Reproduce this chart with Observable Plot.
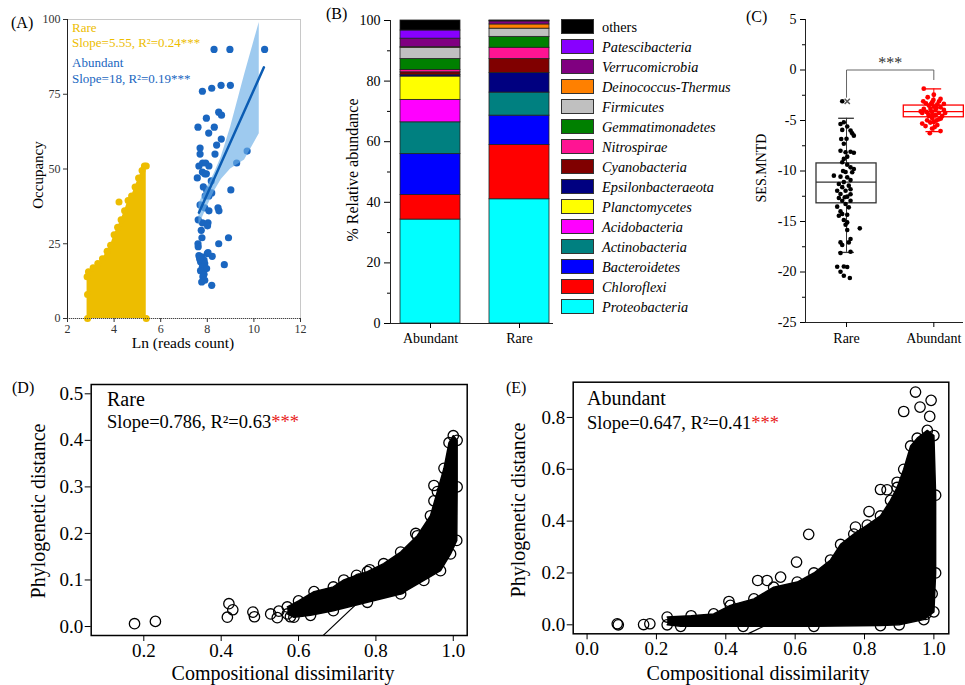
<!DOCTYPE html>
<html><head><meta charset="utf-8">
<script src="https://cdn.jsdelivr.net/npm/d3@7"></script>
<script src="https://cdn.jsdelivr.net/npm/@observablehq/plot@0.6"></script>
<style>
body{margin:0;background:#fff;}
#wrap{position:relative;width:965px;height:685px;overflow:hidden;font-family:"Liberation Serif","Times New Roman",serif;}
.t{position:absolute;white-space:nowrap;line-height:1;}
</style></head><body><div id="wrap"></div>
<script>
// ---------------- DATA ----------------
// Panel A
const rareEdgeA = [[2.84,14],[2.9,15.6],[3.1,17],[3.3,18.4],[3.5,20],[3.7,22.5],[3.85,24.5],[4.0,28],[4.15,30.5],[4.3,33],[4.45,36],[4.6,39.5],[4.75,41],[4.9,44],[5.05,47],[5.2,49.5],[5.3,51],[5.38,51]];
const rareExtraA = [[4.21,39],[2.86,0],[5.38,0],[2.86,8]];
const abundantA = [[8.29,90],[8.97,90],[10.46,90],[7.79,76],[8.19,77],[8.59,78],[8.99,78],[7.6,64],[7.96,67],[8.06,62],[8.3,64],[8.49,69],[8.61,68],[8.6,60],[8.4,58],[8.33,55],[7.69,57],[7.69,55],[9.71,56],[9.26,52],[7.64,51],[7.8,52],[7.93,52],[8.07,51],[7.79,49],[7.89,48.4],[7.57,47],[7.96,48.4],[8.17,46],[9.01,43],[7.83,44],[7.97,43],[7.91,41],[8.07,41],[8.19,42],[7.69,38],[7.89,37],[8.07,36],[8.46,37],[8.5,36],[7.61,33],[7.79,32],[8.03,32],[8.01,31],[7.74,29.5],[7.77,27],[8.91,27],[7.6,25],[7.61,24],[8.49,25],[7.64,21],[7.76,20.6],[8.0,21.7],[8.21,20.8],[7.86,19.5],[7.71,19],[7.89,18.4],[7.79,17.3],[7.97,16.7],[8.73,18],[7.71,16],[7.86,14.8],[7.81,14],[7.89,12.8],[7.76,12.2],[8.19,11.1],[8.03,22],[7.67,20]];
const ribbonX  = [7.64, 8.0, 8.3, 8.6, 9.0, 9.6, 10.23];
const ribbonLo = [31, 37.5, 42.5, 46.5, 50, 53, 61.8];
const ribbonHi = [38.5, 44, 48.5, 54, 64, 81.5, 99];
const fitAX = [7.64, 10.43], fitAY = [35.4, 84];
const xTicksA = [2,4,6,8,10,12], yTicksA = [0,25,50,75,100];

// Panel B
const groupsB = ["Abundant","Rare"];
const phyla = ["Proteobacteria","Chloroflexi","Bacteroidetes","Actinobacteria","Acidobacteria","Planctomycetes","Epsilonbacteraeota","Cyanobacteria","Nitrospirae","Gemmatimonadetes","Firmicutes","Deinococcus-Thermus","Verrucomicrobia","Patescibacteria","others"];
const phylaColors = ["#00FFFF","#FF0000","#0000FF","#008080","#FF00FF","#FFFF00","#000080","#800000","#FF1493","#008000","#C0C0C0","#FF8000","#800080","#8800FF","#000000"];
const abundantB = [34.3, 8.1, 13.5, 10.5, 7.4, 7.7, 0.5, 0.9, 0.8, 3.6, 3.7, 0.2, 2.8, 2.7, 3.3];
const rareB     = [41.0, 17.9, 9.7, 7.6, 0.0, 0.0, 6.5, 4.6, 3.7, 3.6, 2.7, 1.4, 1.0, 0.2, 0.1];
const yTicksB = [0,20,40,60,80,100], yMinorB = [10,30,50,70,90];

// Panel C
const catsC = ["Rare","Abundant"];
const boxC = [
  {pos:1, q1:-13.2, q3:-9.25, median:-11.1, lo:-18.06, hi:-4.78},
  {pos:2, q1:-4.68, q3:-3.52, median:-4.12, lo:-6.1, hi:-1.87}
];
const rarePtsC = [[0.951,-3.1],[0.931,-5.34],[0.969,-5.18],[1.008,-5.6],[0.951,-5.93],[1.046,-6.0],[1.084,-6.5],[1.065,-6.27],[0.939,-6.83],[0.969,-7.3],[0.931,-8.0],[0.989,-8.15],[1.046,-8.1],[1.084,-8.2],[1.008,-8.58],[0.969,-8.8],[0.951,-9.14],[1.008,-9.37],[1.046,-9.64],[1.084,-9.8],[1.065,-10.13],[0.989,-10.1],[0.855,-10.46],[0.931,-10.56],[1.008,-10.63],[1.046,-10.9],[0.969,-11.1],[0.912,-11.28],[1.026,-11.45],[0.951,-11.6],[1.046,-11.8],[0.893,-11.95],[0.989,-11.95],[0.931,-12.27],[1.046,-12.3],[1.008,-12.54],[0.912,-12.67],[0.951,-12.94],[1.046,-12.94],[0.989,-13.27],[0.893,-13.53],[1.026,-13.6],[0.931,-14.0],[1.008,-14.33],[0.912,-14.43],[0.951,-14.26],[0.969,-14.85],[1.008,-15.09],[0.989,-15.32],[1.152,-15.68],[1.008,-15.84],[1.046,-16.74],[1.026,-17.07],[0.931,-17.07],[0.951,-17.33],[0.931,-18.12],[1.046,-17.99],[0.893,-19.48],[0.969,-19.45],[1.008,-19.5],[0.931,-19.97],[0.969,-20.37],[1.038,-20.6],[0.98,-12.6],[1.0,-6.8],[0.96,-10.0]];
const abPtsC = [[1.885,-1.85],[2.0,-2.45],[1.93,-2.7],[2.077,-2.86],[1.879,-3.1],[1.98,-3.2],[2.115,-3.36],[2.04,-3.4],[1.943,-3.52],[2.0,-3.62],[2.077,-3.69],[1.885,-3.85],[1.962,-3.85],[2.02,-3.95],[2.115,-3.95],[1.916,-4.15],[1.98,-4.15],[2.057,-4.25],[1.867,-4.25],[2.02,-4.48],[1.943,-4.55],[2.096,-4.55],[1.98,-4.75],[2.057,-4.88],[1.924,-4.98],[2.0,-5.15],[1.867,-5.3],[1.905,-5.55],[2.04,-5.45],[1.98,-5.8],[2.077,-6.05],[1.954,-6.25],[1.97,-3.36],[1.91,-3.3],[2.06,-3.1],[1.995,-2.96],[2.03,-3.75],[1.94,-4.4],[1.99,-4.5],[2.08,-4.8],[2.03,-5.0],[1.96,-5.2],[2.01,-5.65],[2.13,-4.25],[1.85,-4.1]];
const outlierC = [[1.008,-3.1]];
const bracketC = [[1,-2.7],[1,0],[2,0],[2,-0.95]];
const sigC = [{x:1.5, y:0.0, label:"***"}];
const yTicksC = [5,0,-5,-10,-15,-20,-25], yMinorC = [2.5,-2.5,-7.5,-12.5,-17.5,-22.5];

// Panel D
const dUpper = [[0.571,0.042],[0.60,0.055],[0.64,0.075],[0.69,0.085],[0.717,0.100],[0.75,0.11],[0.778,0.118],[0.82,0.135],[0.864,0.160],[0.907,0.195],[0.941,0.238],[0.959,0.29],[0.976,0.34],[0.989,0.395],[1.0,0.41],[1.01,0.40]];
const dLower = [[1.01,0.30],[1.009,0.185],[0.993,0.156],[0.967,0.12],[0.924,0.099],[0.864,0.070],[0.778,0.052],[0.69,0.034],[0.631,0.024],[0.588,0.02],[0.571,0.027]];
const dOut = [[0.176,0.006],[0.23,0.011],[0.42,0.049],[0.416,0.02],[0.43,0.036],[0.482,0.031],[0.486,0.021],[0.528,0.027],[0.549,0.033],[0.545,0.019],[0.579,0.021],[0.784,0.122],[0.903,0.20],[0.95,0.303],[0.95,0.27],[0.864,0.081],[0.756,0.102],[0.709,0.083]];
const dFit = [[0.664,-0.019],[1.0,0.245]];
const xTicksD = [0.2,0.4,0.6,0.8,1.0], yTicksD = [0,0.1,0.2,0.3,0.4,0.5];

// Panel E
const eUpper = [[0.231,0.03],[0.30,0.035],[0.365,0.042],[0.413,0.075],[0.481,0.10],[0.538,0.145],[0.606,0.165],[0.654,0.20],[0.702,0.25],[0.731,0.31],[0.769,0.35],[0.808,0.385],[0.846,0.42],[0.875,0.48],[0.894,0.53],[0.913,0.60],[0.933,0.69],[0.952,0.72],[0.981,0.75],[1.0,0.73]];
const eLower = [[1.005,0.5],[1.005,0.2],[1.0,0.05],[0.971,0.02],[0.9,0.0],[0.846,-0.003],[0.654,-0.006],[0.45,-0.006],[0.27,-0.006],[0.231,0.0]];
const eOut = [[0.087,0.004],[0.09,0.0],[0.163,0.001],[0.181,0.004],[0.639,0.349],[0.947,0.898],[0.992,0.866],[0.96,0.84],[0.913,0.823],[0.988,0.804],[0.846,0.522],[0.865,0.521],[0.894,0.55],[0.813,0.437],[0.604,0.242],[0.558,0.184],[0.492,0.171],[0.519,0.171],[0.409,0.09],[0.774,0.377],[0.995,0.12],[0.976,0.04]];
const eFit = [[0.465,-0.034],[1.0,0.31]];
const xTicksE = [0,0.2,0.4,0.6,0.8,1.0], yTicksE = [0,0.2,0.4,0.6,0.8];

// ---------------- HELPERS ----------------
const FF = '"Liberation Serif","Times New Roman",serif';
const wrap = document.getElementById("wrap");
function place(svg, left, top){svg.style.position="absolute";svg.style.left=left+"px";svg.style.top=top+"px";wrap.appendChild(svg);}
function txt(html, x, y, o={}){
  const d=document.createElement("div");d.className="t";d.innerHTML=html;
  d.style.left=x+"px";d.style.top=y+"px";d.style.fontSize=(o.size||14)+"px";
  d.style.color=o.color||"#000";if(o.italic)d.style.fontStyle="italic";
  d.style.transform=o.rot?"translate(-50%,-50%) rotate(-90deg)":(o.center?"translate(-50%,-50%)":"translate(0,-50%)");
  wrap.appendChild(d);return d;}
const st = (fs)=>({fontFamily:FF,fontSize:fs+"px",color:"#000",background:"transparent",overflow:"visible"});
const fmt1 = d3.format(".1f");

// ---------------- PANEL A ----------------
const YEL="#EDBD00", BLUE="#1a66c0";
const ribbon = ribbonX.map((x,i)=>({x, lo:ribbonLo[i], hi:ribbonHi[i]}));
const A = Plot.plot({
  width:320,height:350,marginLeft:67,marginRight:20,marginTop:19,marginBottom:32,
  style:st(12),
  x:{domain:[2,12],label:null}, y:{domain:[0,100],label:null},
  marks:[
    Plot.frame({stroke:"#c8c8c8"}),
    Plot.areaY(rareEdgeA,{x:d=>d[0],y:d=>d[1],fill:YEL}),
    Plot.dot(rareEdgeA.concat(rareExtraA),{x:d=>d[0],y:d=>d[1],r:3.5,fill:YEL}),
    Plot.dot(abundantA,{x:d=>d[0],y:d=>d[1],r:3.6,fill:BLUE}),
    Plot.areaY(ribbon,{x:"x",y1:"lo",y2:"hi",fill:"#6aaee6",fillOpacity:0.65}),
    Plot.line(fitAX.map((x,i)=>[x,fitAY[i]]),{x:d=>d[0],y:d=>d[1],stroke:"#0b5cb3",strokeWidth:2.5}),
    Plot.ruleX([2],{stroke:"#222"}), Plot.ruleY([0],{stroke:"#444",strokeDasharray:"1,1"}),
    Plot.axisX({ticks:xTicksA,tickSize:4,tickPadding:2,label:null,color:"#333"}),
    Plot.axisY({ticks:yTicksA,tickSize:4,tickPadding:3,label:null,color:"#333"})
  ]});
place(A,0,0);
txt("(A)",11,23,{size:16});
txt("Rare",72,27,{size:13,color:YEL});
txt("Slope=5.55, R²=0.24***",72,42,{size:13,color:YEL});
txt("Abundant",72,62,{size:13,color:BLUE});
txt("Slope=18, R²=0.19***",72,78,{size:13,color:BLUE});
txt("Occupancy",38,175,{size:15,rot:true});
txt("Ln (reads count)",183,343,{size:15.5,center:true});

// ---------------- PANEL B ----------------
const stackB = [];
groupsB.forEach(g=>{const v=g==="Abundant"?abundantB:rareB; phyla.forEach((p,i)=>stackB.push({group:g,phylum:p,value:v[i]}));});
const B = Plot.plot({
  width:240,height:350,marginLeft:70,marginRight:7,marginTop:20,marginBottom:27,
  style:st(14),
  x:{domain:groupsB,range:[79,230],paddingInner:0.322,paddingOuter:0,label:null},
  y:{domain:[0,100],label:null},
  color:{domain:phyla,range:phylaColors},
  marks:[
    Plot.barY(stackB,{x:"group",y:"value",fill:"phylum",order:phyla,stroke:"#222",strokeWidth:0.8}),
    Plot.frame({anchor:"left",stroke:"#222"}),
    Plot.ruleY([0],{stroke:"#222"}),
    Plot.axisY({ticks:yTicksB,tickSize:6,tickPadding:4,label:null}),
    Plot.axisY({ticks:yMinorB,tickSize:3,tickFormat:()=>"",label:null}),
    Plot.axisX({tickSize:5,tickPadding:5,label:null})
  ]});
place(B,320,0);
txt("(B)",326,14,{size:16});
txt("% Relative abundance",353,170,{size:16,rot:true});
// legend
const leg=document.createElement("div");
leg.style.cssText="position:absolute;left:561px;top:0;width:180px;height:330px;";
wrap.appendChild(leg);
phyla.slice().reverse().forEach((p,i)=>{
  const c=phylaColors[phyla.length-1-i], cy=26.7+20*i;
  const s=document.createElement("div");
  s.style.cssText=`position:absolute;left:0;top:${cy-7.5}px;width:31px;height:13px;background:${c};border:1px solid #333;`;
  leg.appendChild(s);
  const t=document.createElement("div");
  t.className="t";t.textContent=p;
  t.style.cssText+=`left:41px;top:${cy}px;font-size:14.3px;transform:translate(0,-50%);${p==="others"?"":"font-style:italic;"}`;
  leg.appendChild(t);
});

// ---------------- PANEL C ----------------
const BW=0.344, CW=0.09;
const C = Plot.plot({
  width:225,height:350,marginLeft:65,marginRight:2,marginTop:19,marginBottom:28,
  style:st(14),
  x:{domain:[0.53,2.34],label:null}, y:{domain:[-25,5],label:null},
  marks:[
    Plot.ruleX([0.53],{stroke:"#222"}), Plot.ruleY([-25],{stroke:"#222"}),
    Plot.axisY({ticks:yTicksC,tickSize:5,tickPadding:4,label:null,tickFormat:d=>String(d)}),
    Plot.axisY({ticks:yMinorC,tickSize:3,tickFormat:()=>"",label:null}),
    Plot.axisX({ticks:[1,2],tickFormat:d=>catsC[d-1],tickSize:5,tickPadding:6,label:null}),
    Plot.line(bracketC,{x:d=>d[0],y:d=>d[1],stroke:"#666",strokeWidth:1}),
    Plot.text(sigC,{x:"x",y:"y",text:"label",dy:-7,fontSize:16,fill:"#333"}),
    Plot.ruleX(boxC,{x:"pos",y1:"lo",y2:"q1",stroke:d=>d.pos===1?"#333":"red"}),
    Plot.ruleX(boxC,{x:"pos",y1:"q3",y2:"hi",stroke:d=>d.pos===1?"#333":"red"}),
    Plot.ruleY(boxC,{x1:d=>d.pos-CW,x2:d=>d.pos+CW,y:"lo",stroke:d=>d.pos===1?"#333":"red",strokeWidth:1.3}),
    Plot.ruleY(boxC,{x1:d=>d.pos-CW,x2:d=>d.pos+CW,y:"hi",stroke:d=>d.pos===1?"#333":"red",strokeWidth:1.3}),
    Plot.rect(boxC,{x1:d=>d.pos-BW,x2:d=>d.pos+BW,y1:"q1",y2:"q3",fill:"none",stroke:d=>d.pos===1?"#333":"red",strokeWidth:1.3}),
    Plot.ruleY(boxC,{x1:d=>d.pos-BW,x2:d=>d.pos+BW,y:"median",stroke:d=>d.pos===1?"#333":"red",strokeWidth:1.2}),
    Plot.dot(rarePtsC,{x:d=>d[0],y:d=>d[1],r:2.3,fill:"black"}),
    Plot.dot(abPtsC,{x:d=>d[0],y:d=>d[1],r:2.4,fill:"red"}),
    Plot.dot(outlierC,{x:d=>d[0],y:d=>d[1],symbol:"times",r:2.5,stroke:"#555"})
  ]});
place(C,740,0);
txt("(C)",746,17,{size:16});
txt("SES.MNTD",762,168,{size:14,rot:true});

// ---------------- PANEL D ----------------
const circ = {r:5.2,stroke:"black",strokeWidth:1.3,fill:"none"};
const D = Plot.plot({
  width:480,height:325,marginLeft:90.7,marginRight:13.3,marginTop:24,marginBottom:50,
  style:st(19),
  x:{domain:[0.064,1.036],label:null}, y:{domain:[-0.0193,0.52],label:null},
  marks:[
    Plot.line(dFit,{x:d=>d[0],y:d=>d[1],stroke:"black",strokeWidth:1.2}),
    Plot.line(dUpper.concat(dLower),{x:d=>d[0],y:d=>d[1],fill:"black",stroke:"black"}),
    Plot.dot(dUpper.concat(dLower,dOut),{x:d=>d[0],y:d=>d[1],...circ}),
    Plot.frame({stroke:"black",strokeWidth:1.5}),
    Plot.axisX({ticks:xTicksD,tickFormat:fmt1,tickSize:6,tickPadding:2,label:null}),
    Plot.axisY({ticks:yTicksD,tickFormat:fmt1,tickSize:6,tickPadding:2,label:null})
  ]});
place(D,0,360);
txt("(D)",12,388,{size:16});
txt("Rare",107,399,{size:20});
txt('Slope=0.786, R²=0.63<span style="color:#e8211b">***</span>',107,422,{size:18.5});
txt("Phylogenetic distance",38,511,{size:20,rot:true});
txt("Compositional dissimilarity",283,673,{size:20,center:true});

// ---------------- PANEL E ----------------
const E = Plot.plot({
  width:485,height:325,marginLeft:92.7,marginRight:16.7,marginTop:21.7,marginBottom:51.7,
  style:st(19),
  x:{domain:[-0.04,1.043],label:null}, y:{domain:[-0.0347,0.936],label:null},
  marks:[
    Plot.line(eFit,{x:d=>d[0],y:d=>d[1],stroke:"black",strokeWidth:1.2}),
    Plot.line(eUpper.concat(eLower),{x:d=>d[0],y:d=>d[1],fill:"black",stroke:"black"}),
    Plot.dot(eUpper.concat(eLower,eOut),{x:d=>d[0],y:d=>d[1],...circ}),
    Plot.frame({stroke:"black",strokeWidth:1.5}),
    Plot.axisX({ticks:xTicksE,tickFormat:fmt1,tickSize:6,tickPadding:2,label:null}),
    Plot.axisY({ticks:yTicksE,tickFormat:fmt1,tickSize:6,tickPadding:2,label:null})
  ]});
place(E,480,360);
txt("(E)",506,388,{size:16});
txt("Abundant",587,398,{size:20});
txt('Slope=0.647, R²=0.41<span style="color:#e8211b">***</span>',587,423,{size:18.5});
txt("Phylogenetic distance",518,510,{size:20,rot:true});
txt("Compositional dissimilarity",758,673,{size:20,center:true});
</script></body></html>
